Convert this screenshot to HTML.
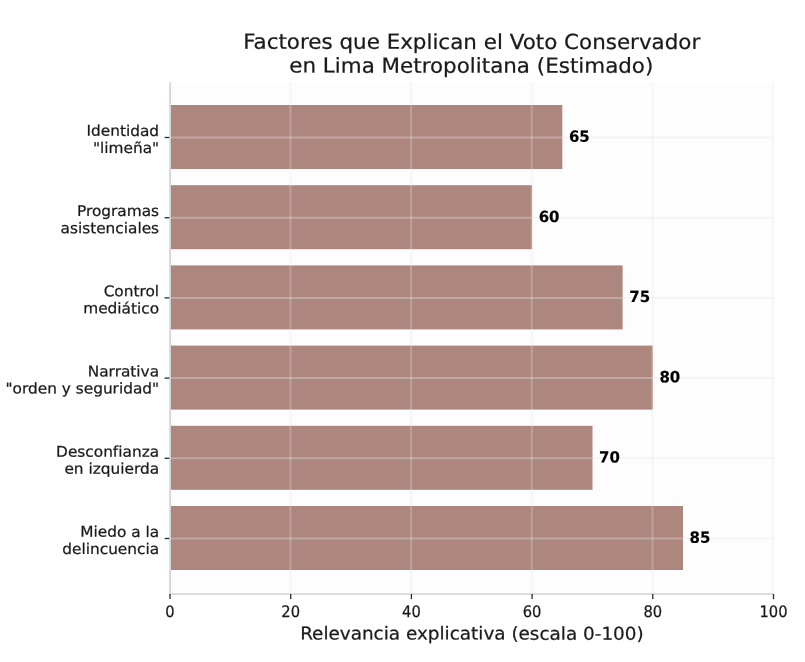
<!DOCTYPE html>
<html lang="es"><head><meta charset="utf-8"><title>Factores que Explican el Voto Conservador</title>
<style>
html,body{margin:0;padding:0;background:#fff;}
svg{display:block;}
text{font-family:"DejaVu Sans","Liberation Sans",sans-serif;fill:#1a1a1a;stroke:#1a1a1a;stroke-width:0.25px;}
.t{font-size:21.45px;text-anchor:middle;}
.yl{font-size:15.35px;text-anchor:end;}
.xl{font-size:15.4px;text-anchor:middle;}
.ax{font-size:18.4px;text-anchor:middle;}
.v{font-size:15.2px;font-weight:bold;fill:#000;stroke:#000;stroke-width:0.15px;}
</style></head><body>
<svg width="805" height="662" viewBox="0 0 805 662">
<rect width="805" height="662" fill="#ffffff"/>
<rect x="170.0" y="82.2" width="602.7" height="511.4" fill="#fdfdfd"/>
<rect x="170.0" y="105.0" width="392.3" height="64.0" fill="#ad867e"/>
<rect x="170.0" y="185.2" width="362.1" height="64.0" fill="#ad867e"/>
<rect x="170.0" y="265.4" width="452.6" height="64.0" fill="#ad867e"/>
<rect x="170.0" y="345.6" width="482.8" height="64.0" fill="#ad867e"/>
<rect x="170.0" y="425.8" width="422.5" height="64.0" fill="#ad867e"/>
<rect x="170.0" y="506.0" width="513.0" height="64.0" fill="#ad867e"/>
<line x1="169.7" y1="82.2" x2="169.7" y2="593.6" stroke="#e6e6e6" stroke-opacity="0.27" stroke-width="2.2"/>
<line x1="290.4" y1="82.2" x2="290.4" y2="593.6" stroke="#e6e6e6" stroke-opacity="0.27" stroke-width="2.2"/>
<line x1="411.1" y1="82.2" x2="411.1" y2="593.6" stroke="#e6e6e6" stroke-opacity="0.27" stroke-width="2.2"/>
<line x1="531.8" y1="82.2" x2="531.8" y2="593.6" stroke="#e6e6e6" stroke-opacity="0.27" stroke-width="2.2"/>
<line x1="652.5" y1="82.2" x2="652.5" y2="593.6" stroke="#e6e6e6" stroke-opacity="0.27" stroke-width="2.2"/>
<line x1="773.2" y1="82.2" x2="773.2" y2="593.6" stroke="#e6e6e6" stroke-opacity="0.27" stroke-width="2.2"/>
<line x1="170.0" y1="137.5" x2="773.5" y2="137.5" stroke="#e6e6e6" stroke-opacity="0.35" stroke-width="2.0"/>
<line x1="170.0" y1="217.7" x2="773.5" y2="217.7" stroke="#e6e6e6" stroke-opacity="0.35" stroke-width="2.0"/>
<line x1="170.0" y1="297.9" x2="773.5" y2="297.9" stroke="#e6e6e6" stroke-opacity="0.35" stroke-width="2.0"/>
<line x1="170.0" y1="378.1" x2="773.5" y2="378.1" stroke="#e6e6e6" stroke-opacity="0.35" stroke-width="2.0"/>
<line x1="170.0" y1="458.3" x2="773.5" y2="458.3" stroke="#e6e6e6" stroke-opacity="0.35" stroke-width="2.0"/>
<line x1="170.0" y1="538.5" x2="773.5" y2="538.5" stroke="#e6e6e6" stroke-opacity="0.35" stroke-width="2.0"/>
<line x1="170.2" y1="82.2" x2="170.2" y2="594.0" stroke="#d2d2d2" stroke-width="1.6"/>
<line x1="169.4" y1="594.0" x2="773.5" y2="594.0" stroke="#d2d2d2" stroke-width="1.7"/>
<line x1="170.0" y1="594.0" x2="170.0" y2="599.1" stroke="#2a2a2a" stroke-width="1.3"/>
<text class="xl" transform="translate(170.00 616.90) rotate(0.03) scale(0.955 1.03)">0</text>
<line x1="290.7" y1="594.0" x2="290.7" y2="599.1" stroke="#2a2a2a" stroke-width="1.3"/>
<text class="xl" transform="translate(290.70 616.90) rotate(0.03) scale(0.955 1.03)">20</text>
<line x1="411.4" y1="594.0" x2="411.4" y2="599.1" stroke="#2a2a2a" stroke-width="1.3"/>
<text class="xl" transform="translate(411.40 616.90) rotate(0.03) scale(0.955 1.03)">40</text>
<line x1="532.1" y1="594.0" x2="532.1" y2="599.1" stroke="#2a2a2a" stroke-width="1.3"/>
<text class="xl" transform="translate(532.10 616.90) rotate(0.03) scale(0.955 1.03)">60</text>
<line x1="652.8" y1="594.0" x2="652.8" y2="599.1" stroke="#2a2a2a" stroke-width="1.3"/>
<text class="xl" transform="translate(652.80 616.90) rotate(0.03) scale(0.955 1.03)">80</text>
<line x1="773.5" y1="594.0" x2="773.5" y2="599.1" stroke="#2a2a2a" stroke-width="1.3"/>
<text class="xl" transform="translate(773.50 616.90) rotate(0.03) scale(0.955 1.03)">100</text>
<line x1="164.6" y1="137.5" x2="169.3" y2="137.5" stroke="#2a2a2a" stroke-width="1.3"/>
<text class="yl" transform="translate(159.10 135.90) rotate(0.03) scale(1 0.968)">Identidad</text>
<text class="yl" transform="translate(159.10 153.00) rotate(0.03) scale(1 0.968)">&quot;limeña&quot;</text>
<text class="v" transform="translate(568.88 141.70) rotate(0.03) scale(0.985 1.013)">65</text>
<line x1="164.6" y1="217.7" x2="169.3" y2="217.7" stroke="#2a2a2a" stroke-width="1.3"/>
<text class="yl" transform="translate(159.10 216.10) rotate(0.03) scale(1 0.968)">Programas</text>
<text class="yl" transform="translate(159.10 233.20) rotate(0.03) scale(1 0.968)">asistenciales</text>
<text class="v" transform="translate(538.70 221.90) rotate(0.03) scale(0.985 1.013)">60</text>
<line x1="164.6" y1="297.9" x2="169.3" y2="297.9" stroke="#2a2a2a" stroke-width="1.3"/>
<text class="yl" transform="translate(159.10 296.30) rotate(0.03) scale(1 0.968)">Control</text>
<text class="yl" transform="translate(159.10 313.40) rotate(0.03) scale(1 0.968)">mediático</text>
<text class="v" transform="translate(629.23 302.10) rotate(0.03) scale(0.985 1.013)">75</text>
<line x1="164.6" y1="378.1" x2="169.3" y2="378.1" stroke="#2a2a2a" stroke-width="1.3"/>
<text class="yl" transform="translate(159.10 376.50) rotate(0.03) scale(1 0.968)">Narrativa</text>
<text class="yl" transform="translate(159.10 393.60) rotate(0.03) scale(1 0.968)">&quot;orden y seguridad&quot;</text>
<text class="v" transform="translate(659.40 382.30) rotate(0.03) scale(0.985 1.013)">80</text>
<line x1="164.6" y1="458.3" x2="169.3" y2="458.3" stroke="#2a2a2a" stroke-width="1.3"/>
<text class="yl" transform="translate(159.10 456.70) rotate(0.03) scale(1 0.968)">Desconfianza</text>
<text class="yl" transform="translate(159.10 473.80) rotate(0.03) scale(1 0.968)">en izquierda</text>
<text class="v" transform="translate(599.05 462.50) rotate(0.03) scale(0.985 1.013)">70</text>
<line x1="164.6" y1="538.5" x2="169.3" y2="538.5" stroke="#2a2a2a" stroke-width="1.3"/>
<text class="yl" transform="translate(159.10 536.90) rotate(0.03) scale(1 0.968)">Miedo a la</text>
<text class="yl" transform="translate(159.10 554.00) rotate(0.03) scale(1 0.968)">delincuencia</text>
<text class="v" transform="translate(689.58 542.70) rotate(0.03) scale(0.985 1.013)">85</text>
<text class="t" transform="translate(471.70 48.90) rotate(0.03) scale(1 0.968)">Factores que Explican el Voto Conservador</text>
<text class="t" transform="translate(471.30 72.70) rotate(0.03) scale(1 0.968)">en Lima Metropolitana (Estimado)</text>
<text class="ax" transform="translate(471.90 639.60) rotate(0.03) scale(1 0.968)">Relevancia explicativa (escala 0-100)</text>
</svg></body></html>
